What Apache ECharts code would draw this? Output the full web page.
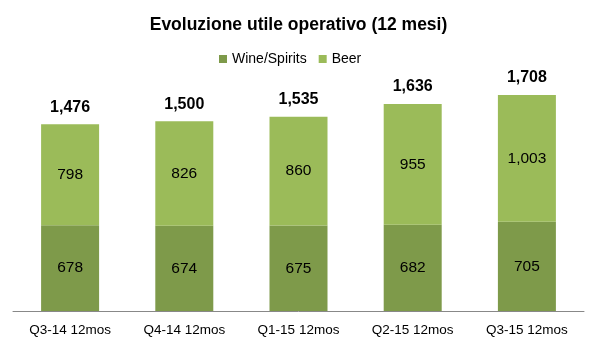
<!DOCTYPE html>
<html><head><meta charset="utf-8">
<script src="https://cdn.jsdelivr.net/npm/echarts@6/dist/echarts.min.js"></script>
<style>html,body{margin:0;padding:0;background:#fff}#c{width:597px;height:347px}</style>
</head><body><div id="c"></div>
<script>
const categories = ["Q3-14 12mos","Q4-14 12mos","Q1-15 12mos","Q2-15 12mos","Q3-15 12mos"];
const wineSpirits = [678, 674, 675, 682, 705];
const beer = [798, 826, 860, 955, 1003];
const totals = [1476, 1500, 1535, 1636, 1708];
const zeros = [0, 0, 0, 0, 0];

const F = '"Liberation Sans", Arial, sans-serif';
const fmt = v => v.toLocaleString('en-US');
const chart = echarts.init(document.getElementById('c'));
chart.setOption({
  animation: false,
  title: { text: 'Evoluzione utile operativo (12 mesi)', left: 'center', top: 11,
    textStyle: { fontFamily: F, fontSize: 17.5, fontWeight: 'bold', color: '#000' } },
  legend: { top: 47, left: 214, itemWidth: 8, itemHeight: 8, itemGap: 12,
    icon: 'rect', textStyle: { fontFamily: F, fontSize: 14, color: '#000' },
    data: ['Wine/Spirits', 'Beer'] },
  grid: { left: 13, right: 13, top: 58, bottom: 36 },
  xAxis: { type: 'category', data: categories,
    axisLine: { lineStyle: { color: '#888', width: 1 } }, axisTick: { show: false },
    axisLabel: { interval: 0, fontFamily: F, fontSize: 13.5, color: '#000', margin: 12 } },
  yAxis: { type: 'value', min: 0, max: 2000, show: false, splitLine: { show: false } },
  series: [
    { name: 'Wine/Spirits', type: 'bar', stack: 's', data: wineSpirits, barWidth: 58,
      itemStyle: { color: '#7E9A4A' },
      label: { show: true, position: 'inside', fontFamily: F, fontSize: 15.5, color: '#000',
        formatter: p => fmt(p.value) } },
    { name: 'Beer', type: 'bar', stack: 's', data: beer,
      itemStyle: { color: '#9BBB59' },
      label: { show: true, position: 'inside', fontFamily: F, fontSize: 15.5, color: '#000',
        formatter: p => fmt(p.value) } },
    { name: 'Total', type: 'bar', stack: 's', data: zeros, silent: true,
      itemStyle: { color: 'transparent' },
      label: { show: true, position: 'top', distance: 9, fontFamily: F, fontSize: 16,
        fontWeight: 'bold', color: '#000', formatter: p => fmt(totals[p.dataIndex]) } }
  ]
});
</script></body></html>
